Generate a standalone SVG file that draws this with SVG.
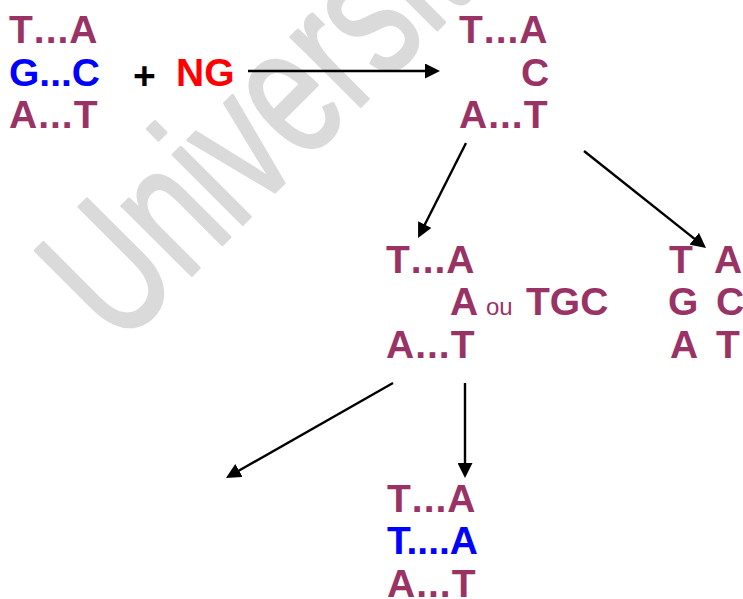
<svg xmlns="http://www.w3.org/2000/svg" width="743" height="599" viewBox="0 0 743 599">
<style>
.t{font-family:"Liberation Sans",Arial,sans-serif;font-weight:bold;font-size:39px;fill:#993366;font-kerning:none}
.s{letter-spacing:1px}
.b{fill:#0000ff}
.r{fill:#ff0000}
.k{fill:#000000}
.ou{font-weight:normal;font-size:24px;letter-spacing:0}
.wm{font-family:"Liberation Sans",Arial,sans-serif;font-size:186px;fill:#dadada;stroke:#dadada;stroke-width:3;stroke-linejoin:round}
.c{stroke:#000;stroke-width:2.4;fill:none}
</style>
<defs>
<marker id="ah" viewBox="0 0 15 15" markerWidth="15" markerHeight="15" refX="10" refY="7.5" orient="auto" markerUnits="userSpaceOnUse">
<path d="M0,0 L15,7.5 L0,15 z" fill="#000"/>
</marker>
</defs>
<rect width="743" height="599" fill="#fff"/>
<text class="wm" transform="translate(118.6,348.4) rotate(-45) scale(0.7,1)">Université</text>
<g id="connectors">
<line class="c" x1="248" y1="71" x2="435" y2="71" marker-end="url(#ah)"/>
<line class="c" x1="466" y1="143" x2="420.3" y2="233.5" marker-end="url(#ah)"/>
<line class="c" x1="584" y1="151" x2="702.1" y2="244.9" marker-end="url(#ah)"/>
<line class="c" x1="393" y1="383" x2="230.3" y2="475.5" marker-end="url(#ah)"/>
<line class="c" x1="465" y1="383" x2="465" y2="473" marker-end="url(#ah)"/>
</g>
<g id="start">
<text class="t s" x="9" y="43">T...A</text>
<text class="t b" x="9" y="85.5">G...C</text>
<text class="t s" x="9" y="128">A...T</text>
</g>
<g id="plus">
<text class="t k" x="133" y="89">+</text>
</g>
<g id="ng">
<text class="t r" x="176" y="85.5">NG</text>
</g>
<g id="lesion">
<text class="t s" x="459" y="43">T...A</text>
<text class="t" x="521" y="85.5">C</text>
<text class="t s" x="459" y="128">A...T</text>
</g>
<g id="insertion">
<text class="t s" x="386" y="273">T...A</text>
<text class="t" x="450" y="315">A<tspan class="ou" x="486">ou</tspan><tspan x="526">TGC</tspan></text>
<text class="t s" x="386" y="358">A...T</text>
</g>
<g id="repair">
<text class="t" x="669" y="273">T<tspan x="714">A</tspan></text>
<text class="t" x="668" y="315">G<tspan x="716">C</tspan></text>
<text class="t" x="670" y="358">A<tspan x="716">T</tspan></text>
</g>
<g id="mutation">
<text class="t s" x="387" y="512">T...A</text>
<text class="t b" x="387" y="554" style="font-kerning:normal">T....A</text>
<text class="t s" x="387" y="597">A...T</text>
</g>
</svg>
